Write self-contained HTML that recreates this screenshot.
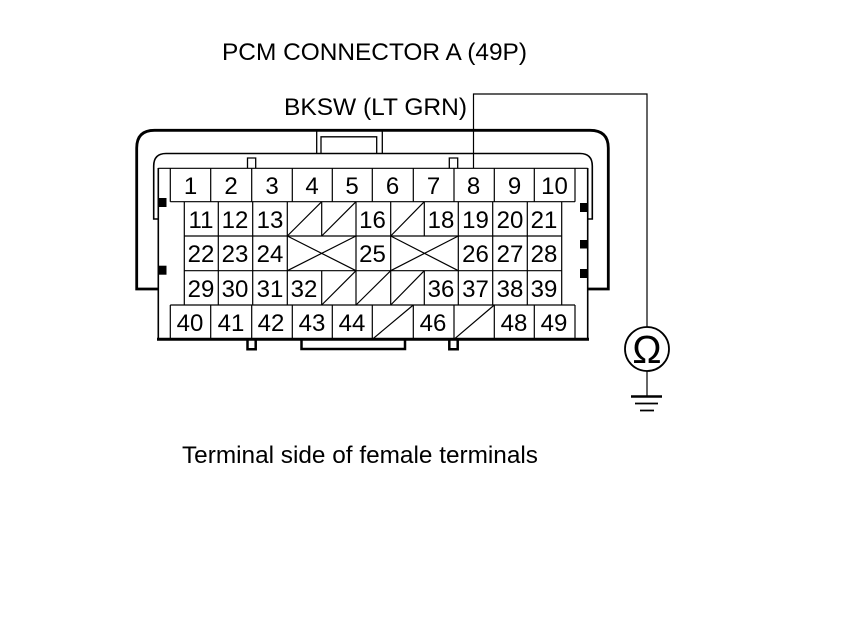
<!DOCTYPE html>
<html><head><meta charset="utf-8"><style>html,body{margin:0;padding:0;background:#fff}svg{display:block}text{font-family:"Liberation Sans",Arial,sans-serif;fill:#000}</style></head><body>
<svg width="860" height="629" viewBox="0 0 860 629" xmlns="http://www.w3.org/2000/svg">
<rect width="860" height="629" fill="#fff"/>
<g fill="none" stroke="#000">
<path d="M158 289H136.700V148Q136.700 130.300 154.500 130.300H590Q608.300 130.300 608.300 148V289H587.700" stroke-width="2.800"/>
<path d="M158.300 219H153.700V166Q153.700 153.500 166 153.500H580Q592.300 153.500 592.300 166V219H587.700" stroke-width="1.600"/>
<path d="M316.700 130V153M321 153V136.800H376.700V153M382.300 130V153" stroke-width="1.300"/>
<path d="M247.500 168V158H255.700V168M449.300 168V158H457.700V168" stroke-width="1.300"/>
<path d="M158.300 168V339.300H587.700V168" stroke-width="1.600"/>
<path d="M157 339.300H589" stroke-width="3"/>
<path d="M247.500 339V349.300H255.700V339M449.300 339V349.300H457.700V339M301.500 339V349H405V339" stroke-width="2.500"/>
<g stroke-width="1.200">
<path d="M158.300 168.300H587.700"/>
<path d="M170.300 168.300V201.700M210.700 168.300V201.700M251.700 168.300V201.700M292.300 168.300V201.700M332.300 168.300V201.700M372.300 168.300V201.700M413.300 168.300V201.700M454 168.300V201.700M494.300 168.300V201.700M534.300 168.300V201.700M575 168.300V201.700"/>
<path d="M170.300 201.700H575M184.300 236H561.700M184.300 270.700H561.700M170.300 305H575"/>
<path d="M184.300 201.700V305M218.300 201.700V305M252.700 201.700V305M287.300 201.700V305M321.700 201.700V236M321.700 270.700V305M356 201.700V305M390.700 201.700V305M424.300 201.700V236M424.300 270.700V305M458.300 201.700V305M492.700 201.700V305M527.300 201.700V305M561.700 201.700V305"/>
<path d="M170.300 305V339.300M210.700 305V339.300M251.700 305V339.300M292.300 305V339.300M332.300 305V339.300M372.300 305V339.300M413.300 305V339.300M454 305V339.300M494.300 305V339.300M534.300 305V339.300M575 305V339.300"/>
<path d="M287.300 236L321.700 201.700M321.700 236L356 201.700M390.700 236L424.300 201.700"/>
<path d="M287.300 236L356 270.700M287.300 270.700L356 236M390.700 236L458.300 270.700M390.700 270.700L458.300 236"/>
<path d="M321.700 305L356 270.700M356 305L390.700 270.700M390.700 305L424.300 270.700"/>
<path d="M372.300 339.300L413.300 305M454 339.300L494.300 305"/>
<path d="M473.500 168V94H647V327.500M647 371V396"/>
</g>
<circle cx="647" cy="349" r="22" stroke-width="1.800"/>
<path d="M631 396.500H662" stroke-width="2.500"/>
<path d="M635 403.500H658M640 410.500H654" stroke-width="1.800"/>
</g>
<g fill="#000">
<rect x="158.500" y="198" width="8" height="9"/><rect x="158.500" y="265.700" width="8" height="9"/>
<rect x="580" y="203" width="8" height="9"/><rect x="580" y="240" width="8" height="8.500"/><rect x="580" y="269" width="8" height="9"/>
</g>
<text x="222" y="60" font-size="24" textLength="305" lengthAdjust="spacingAndGlyphs">PCM CONNECTOR A (49P)</text>
<text x="284" y="115" font-size="24" textLength="183" lengthAdjust="spacingAndGlyphs">BKSW (LT GRN)</text>
<text x="182" y="463" font-size="24" textLength="356" lengthAdjust="spacingAndGlyphs">Terminal side of female terminals</text>
<text x="647" y="363" font-size="39" text-anchor="middle">Ω</text>
<g font-size="24" text-anchor="middle">
<text x="190.500" y="194">1</text><text x="231" y="194">2</text><text x="272" y="194">3</text><text x="312" y="194">4</text><text x="352" y="194">5</text><text x="392.500" y="194">6</text><text x="433.500" y="194">7</text><text x="473.500" y="194">8</text><text x="514.500" y="194">9</text><text x="554.500" y="194">10</text>
<text x="201" y="228">11</text><text x="235" y="228">12</text><text x="270" y="228">13</text><text x="372.500" y="228">16</text><text x="441" y="228">18</text><text x="475.500" y="228">19</text><text x="510" y="228">20</text><text x="544" y="228">21</text>
<text x="201" y="262">22</text><text x="235" y="262">23</text><text x="270" y="262">24</text><text x="372.500" y="262">25</text><text x="475.500" y="262">26</text><text x="510" y="262">27</text><text x="544" y="262">28</text>
<text x="201" y="297">29</text><text x="235" y="297">30</text><text x="270" y="297">31</text><text x="304" y="297">32</text><text x="441" y="297">36</text><text x="475.500" y="297">37</text><text x="510" y="297">38</text><text x="544" y="297">39</text>
<text x="190" y="331">40</text><text x="231" y="331">41</text><text x="271" y="331">42</text><text x="312" y="331">43</text><text x="352" y="331">44</text><text x="433" y="331">46</text><text x="514" y="331">48</text><text x="554" y="331">49</text>
</g>
</svg>
</body></html>
